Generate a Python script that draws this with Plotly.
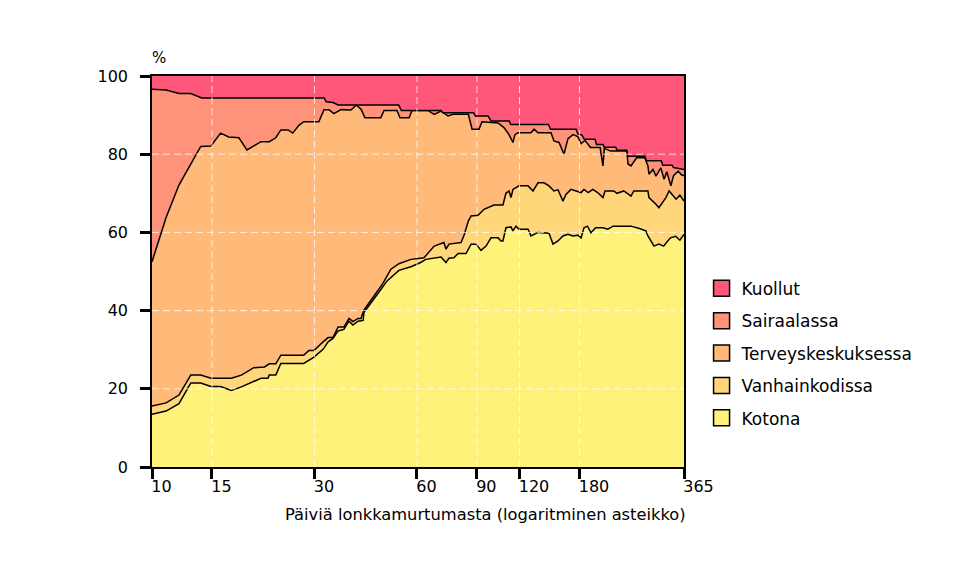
import plotly.graph_objects as go
import numpy as np

# ---- data (percent, cumulative upper edge of each state) ----
series_names = ["Kotona", "Vanhainkodissa", "Terveyskeskuksessa", "Sairaalassa", "Kuollut"]
series_colors = ["#FFF27A", "#FFD67A", "#FFBA7A", "#FF937A", "#FF577A"]

koti_days = [10, 11, 12, 13, 13.9, 14.9, 15.9, 17.1, 18.3, 19.9, 20.9, 21.9, 22.1, 23.1, 23.9, 27.9,
             28.9, 29.9, 31.8, 32.9, 34.0, 35.2, 36.6, 37.9, 38.9, 40.3, 41.7, 41.9, 47.0, 49.0, 53.1,
             57.6, 61.5, 63.7, 70.6, 73.0, 74.5, 77.0, 79.2, 83.6, 86.5, 89.5, 92.5, 95.7, 99.0, 103.8,
             105.9, 107.3, 109.5, 113.3, 114.8, 117.2, 119.6, 127.1, 129.7, 136.0, 146.5, 150.5, 155.7,
             161.0, 166.6, 172.3, 178.2, 182, 185.6, 190, 194.6, 200.8, 211, 218, 226, 255, 270, 282,
             286, 292, 298, 308, 318, 333, 345, 355, 365]
koti_top = [13.5, 14.3, 16.2, 21.5, 21.5, 20.6, 20.6, 19.6, 20.5, 21.8, 22.7, 22.7, 23.5, 23.5, 26.5, 26.5,
            27.4, 28.1, 30.1, 32.0, 32.9, 34.8, 35.2, 37.3, 36.3, 37.3, 37.5, 39.5, 45.4, 47.6, 50.3,
            51.2, 52.3, 53.1, 53.7, 52.3, 53.4, 53.5, 54.6, 54.6, 57.0, 57.0, 55.4, 56.5, 58.6, 58.6,
            57.8, 57.8, 61.2, 61.4, 60.4, 61.6, 60.8, 60.8, 59.1, 60.0, 59.8, 57.0, 57.8,
            59.1, 59.5, 59.1, 59.3, 58.6, 61.2, 61.6, 59.9, 61.2, 61.2, 60.8, 61.6, 61.6, 61.0, 60.4,
            59.1, 57.8, 56.5, 57.0, 56.5, 58.6, 59.0, 58.0, 59.5]

vanh_days = [10, 11, 12, 13, 13.9, 14.9, 17.1, 18.3, 19.9, 21.4, 22.1, 23.1, 23.9, 27.9, 28.9, 29.9,
             31.8, 32.9, 34.0, 35.2, 36.6, 37.9, 38.9, 40.3, 41.1, 41.9, 47.6, 50.3, 53.1, 57.6, 62.9,
             65.0, 67.4, 72.0, 73.0, 74.5, 80.8, 82.5, 84.9, 86.5, 90.7, 94.4, 101.0, 107.3, 109.5,
             111.8, 113.3, 114.8, 119.6, 127.1, 131.5, 136.0, 141.6, 146.5, 151.5, 155.7, 161.0, 164.3,
             170.0, 176, 182, 185.6, 191, 197, 203.5, 211, 214, 227, 232, 243, 255, 260, 286, 288, 296,
             302, 308, 315, 323, 330, 339, 346, 355, 365]
vanh_top = [15.6, 16.4, 18.4, 23.5, 23.5, 22.7, 22.7, 23.5, 25.4, 25.6, 26.4, 26.4, 28.6, 28.6, 29.8, 29.8,
            32.0, 33.1, 33.1, 35.8, 35.8, 38.0, 37.2, 38.0, 38.0, 40.1, 46.9, 50.6, 52.0, 53.1, 53.5,
            54.8, 56.5, 57.4, 55.7, 57.0, 57.4, 59.3, 62.9, 64.2, 64.4, 65.9, 67.0, 67.0, 70.0,
            70.6, 68.9, 71.0, 71.9, 71.9, 70.6, 72.7, 72.7, 71.9, 70.6, 70.9, 68.0, 69.7,
            71.0, 70.6, 70.2, 71.0, 70.2, 71.0, 70.2, 68.9, 70.6, 70.6, 70.0, 70.6, 69.3, 70.6, 70.6, 68.9, 68.0,
            67.2, 66.3, 67.5, 68.9, 70.6, 69.5, 68.5, 69.5, 68.0]

terv_days = [10, 11, 12, 13.9, 14.9, 15.9, 16.8, 18.0, 19.0, 20.9, 22.1, 23.1, 23.9, 25.1, 25.9, 27.0,
             27.9, 30.9, 32.0, 33.1, 34.2, 35.9, 38.4, 39.8, 41.1, 42.2, 47.0, 48.0, 52.4, 53.5, 56.9,
             58.0, 64.6, 67.4, 70.6, 74.0, 76.6, 84.9, 87.1, 91.3, 93.1, 103.8, 108.0, 111.8, 114.8,
             116.4, 118.8, 129.7, 132.4, 136, 148.5, 151.5, 156.8, 162.1, 166.6, 172.3, 178, 182, 187,
             194, 207, 211, 213, 222, 248, 250, 255, 265, 280, 286, 288, 296, 302, 312, 319, 325, 334,
             340, 351, 358, 365]
terv_top = [52.5, 63.8, 72.1, 82.0, 82.1, 85.4, 84.4, 84.2, 81.1, 83.2, 83.2, 84.2, 86.2, 86.2, 85.4, 87.4,
            88.3, 88.3, 91.4, 91.4, 90.4, 91.4, 91.3, 92.6, 91.5, 89.3, 89.3, 91.2, 91.2, 89.3, 89.3,
            91.2, 91.2, 90.2, 91.0, 89.8, 90.2, 90.2, 86.4, 86.4, 88.3, 88.0, 86.8, 85.0, 83.0,
            85.0, 85.5, 85.5, 86.4, 85.5, 85.5, 83.4, 83.0, 80.0, 84.0, 85.0, 84.5, 82.7, 83.5,
            81.7, 81.7, 77.0, 81.5, 80.8, 80.8, 77.5, 77.0, 79.1, 79.1, 77.0, 74.9, 76.1, 74.4, 76.5, 73.6, 75.5, 71.9,
            74.5, 75.7, 74.8, 74.5]

sair_days = [10, 11, 12, 13, 14, 32, 32.5, 34, 35.2, 53, 54, 70.6, 71.5, 88, 89, 97, 99, 112, 113, 146,
             148, 176, 178, 183, 186, 200, 202, 211, 213, 230, 232, 248, 250, 280, 283, 313, 316, 337, 340, 365]
sair_top = [96.6, 96.4, 95.5, 95.5, 94.4, 94.4, 93.4, 93.2, 92.6, 92.6, 91.2, 91.2, 90.6, 90.6, 89.8, 89.8,
            88.5, 88.5, 87.6, 87.6, 86.4, 86.4, 85.2, 84.9, 83.8, 83.8, 82.5, 82.5, 81.8, 81.8, 81.0, 81.0,
            79.5, 79.5, 78.3, 78.3, 77.2, 77.2, 76.6, 76.1]

kuol_days = [10, 365]
kuol_top = [100, 100]

x_ticks = [10, 15, 30, 60, 90, 120, 180, 365]
y_ticks = [0, 20, 40, 60, 80, 100]
x_grid = [15, 30, 60, 90, 120, 180]
y_grid = [20, 40, 60, 80]

FONT = "DejaVu Sans"

fig = go.Figure()
edges = [(koti_days, koti_top), (vanh_days, vanh_top), (terv_days, terv_top),
         (sair_days, sair_top), (kuol_days, kuol_top)]
for i, (name, col, (dx, dy)) in enumerate(zip(series_names, series_colors, edges)):
    fig.add_trace(go.Scatter(
        x=dx, y=dy, mode="lines", name=name,
        line=dict(color="black", width=1.5 if i < 4 else 0),
        fill="tozeroy" if i == 0 else "tonexty",
        fillcolor=col, showlegend=False, hoverinfo="skip"))

# dashed grid drawn over the areas
gx, gy = [], []
for v in x_grid:
    gx += [v, v, None]
    gy += [0, 100, None]
for v in y_grid:
    gx += [x_ticks[0], x_ticks[-1], None]
    gy += [v, v, None]
fig.add_trace(go.Scatter(x=gx, y=gy, mode="lines", showlegend=False, hoverinfo="skip",
                         line=dict(color="rgba(255,255,255,0.75)", width=1, dash="7px,4px")))

# legend entries (top to bottom)
for k, (name, col) in enumerate(zip(series_names[::-1], series_colors[::-1])):
    fig.add_trace(go.Scatter(x=[None], y=[None], mode="markers", name=name,
                             legendgroup=name, legendrank=k,
                             marker=dict(symbol="square", size=16, color=col,
                                         line=dict(color="black", width=1.5))))

fig.update_layout(
    width=948, height=575,
    margin=dict(l=144, r=272, t=68, b=116),
    paper_bgcolor="white", plot_bgcolor="white",
    font=dict(family=FONT, size=16, color="black"),
    showlegend=True,
    legend=dict(x=1.033, xanchor="left", y=0.502, yanchor="top",
                font=dict(family=FONT, size=17, color="black"),
                tracegroupgap=7.3, bgcolor="rgba(0,0,0,0)", itemwidth=30),
    xaxis=dict(type="log", range=[np.log10(x_ticks[0]), np.log10(x_ticks[-1])],
               tickvals=x_ticks, ticktext=[str(t) for t in x_ticks],
               ticks="outside", ticklen=10, tickwidth=3, tickcolor="black",
               ticklabelposition="outside right", ticklabelstandoff=4, ticklabelshift=-3,
               showline=True, linecolor="black", linewidth=1.5, mirror=True,
               showgrid=False, zeroline=False, tickfont=dict(family=FONT, size=16)),
    yaxis=dict(range=[0, 100], tickvals=y_ticks,
               ticks="outside", ticklen=10, tickwidth=3, tickcolor="black",
               showline=True, linecolor="black", linewidth=1.5, mirror=True,
               showgrid=False, zeroline=False, tickfont=dict(family=FONT, size=16),
               ticklabelstandoff=9),
    annotations=[
        dict(text="%", xref="paper", yref="paper", x=0, y=1, xanchor="left", yanchor="bottom",
             xshift=-2, yshift=7, showarrow=False, font=dict(family=FONT, size=15)),
        dict(text="Päiviä lonkkamurtumasta (logaritminen asteikko)", xref="paper", yref="paper",
             x=1, y=0, xanchor="right", yanchor="middle", xshift=4, yshift=-47,
             showarrow=False, font=dict(family=FONT, size=16.3)),
    ],
)

fig.write_html("out.html")
